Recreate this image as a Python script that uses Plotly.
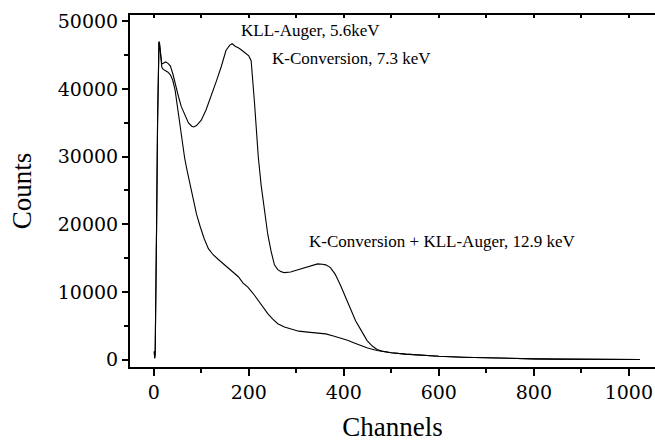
import plotly.graph_objects as go

# Spectrum with the KLL-Auger peak (upper curve)
channels_a = [1, 2, 3, 4, 6, 8, 10, 11, 12, 14, 17, 20, 25, 30, 35, 40, 45, 52, 58, 66,
              73, 80, 84, 90, 100, 110, 121, 132, 142, 152, 160, 165, 172, 178, 186, 194,
              200, 205, 208, 212, 216, 220, 226, 233, 240, 247, 254, 261, 268, 275, 288,
              300, 310, 320, 335, 345, 355, 362, 372, 382, 393, 403, 414, 425, 435, 449,
              460, 470, 480, 500, 530, 560, 600, 650, 700, 750, 800, 850, 900, 950, 1000, 1023]
counts_a = [1200, 200, 900, 6000, 20000, 35000, 45500, 47000, 46800, 45000, 43700, 43800,
            44000, 43800, 43400, 42300, 40800, 38900, 37400, 36000, 35000, 34500, 34400,
            34600, 35400, 36900, 38900, 41200, 43300, 45700, 46500, 46700, 46300, 46100,
            45700, 45300, 44900, 44200, 42000, 38000, 34000, 30000, 25800, 22000, 18500,
            16000, 14000, 13300, 13000, 12850, 12950, 13200, 13400, 13600, 13900, 14150,
            14100, 14000, 13600, 12600, 11000, 9300, 7600, 5700, 4500, 2800, 2000, 1500,
            1250, 1000, 800, 650, 480, 350, 240, 160, 100, 70, 50, 30, 20, 15]

# Spectrum without it (lower curve)
channels_b = [1, 2, 3, 4, 6, 8, 10, 11, 12, 14, 17, 20, 25, 30, 35, 40, 45, 52, 59, 65,
              70, 77, 84, 90, 98, 106, 115, 125, 136, 146, 157, 167, 178, 188, 198, 209,
              219, 230, 240, 250, 261, 275, 289, 305, 324, 345, 362, 380, 394, 408, 422,
              435, 450, 470, 485, 500, 530, 560, 600, 650, 700, 750, 800, 850, 900, 950,
              1000, 1023]
counts_b = [1200, 200, 900, 6000, 20000, 35000, 45500, 47000, 46800, 44900, 43200, 42900,
            42700, 42500, 42100, 41300, 39800, 36400, 32500, 29800, 28000, 25600, 23600,
            21500, 19600, 17900, 16400, 15500, 14800, 14200, 13600, 13000, 12250, 11300,
            10700, 9800, 8800, 7700, 6800, 6000, 5300, 4800, 4500, 4200, 4050, 3950, 3800,
            3450, 3200, 2850, 2450, 2050, 1700, 1350, 1150, 1000, 800, 650, 480, 350, 240,
            160, 100, 70, 50, 30, 20, 15]

x_ticks = [0, 200, 400, 600, 800, 1000]
top_ticks = list(range(0, 1100, 100))
y_ticks = [0, 10000, 20000, 30000, 40000, 50000]
x_range = [-50, 1055]
y_range = [-1100, 50950]

labels = [
    ("KLL-Auger, 5.6keV", 180, 48700),
    ("K-Conversion, 7.3 keV", 245, 44450),
    ("K-Conversion + KLL-Auger, 12.9 keV", 323, 17400),
]

fig = go.Figure()
for xs, ys in ((channels_a, counts_a), (channels_b, counts_b)):
    fig.add_trace(go.Scatter(x=xs, y=ys, mode="lines",
                             line=dict(color="black", width=1.1),
                             showlegend=False, hoverinfo="skip"))
# the lower spectrum is also bound to the top axis (drawn without a line) so that
# the top tick marks get rendered
fig.add_trace(go.Scatter(x=channels_b, y=counts_b, xaxis="x2", yaxis="y",
                         mode="lines", line=dict(width=0),
                         showlegend=False, hoverinfo="skip"))

tick_font = dict(family="DejaVu Serif", size=19, color="black")
title_font = dict(family="Liberation Serif", size=27, color="black")

fig.update_layout(
    width=655, height=442,
    margin=dict(l=130, r=0, t=15, b=75, autoexpand=False),
    paper_bgcolor="white", plot_bgcolor="white",
    xaxis=dict(
        range=x_range, tickvals=x_ticks, ticktext=[str(v) for v in x_ticks],
        showline=True, mirror=True, linewidth=2, linecolor="black",
        ticks="outside", ticklen=7, tickwidth=1.5, tickcolor="black",
        minor=dict(dtick=100, tick0=0, ticks="outside", ticklen=4,
                   tickwidth=1.5, tickcolor="black", showgrid=False),
        showgrid=False, zeroline=False, tickfont=tick_font,
        ticklabeloverflow="allow", automargin=False,
        title=dict(text="Channels", font=title_font, standoff=30),
    ),
    xaxis2=dict(
        range=x_range, overlaying="x", side="top", anchor="y", visible=True,
        showline=True, linewidth=2, linecolor="black", automargin=False,
        ticks="inside", tickvals=top_ticks, ticklen=3, tickwidth=1.5,
        tickcolor="black", showticklabels=False, showgrid=False, zeroline=False,
    ),
    yaxis=dict(
        range=y_range, tickvals=y_ticks, ticktext=[str(v) for v in y_ticks],
        showline=True, linewidth=2, linecolor="black", automargin=False,
        ticks="outside", ticklen=6, tickwidth=1.5, tickcolor="black",
        minor=dict(dtick=5000, tick0=0, ticks="outside", ticklen=4,
                   tickwidth=1.5, tickcolor="black", showgrid=False),
        showgrid=False, zeroline=False, tickfont=tick_font,
        title=dict(text="Counts", font=title_font, standoff=18),
    ),
)

for text, x, y in labels:
    fig.add_annotation(x=x, y=y, text=text, showarrow=False, xanchor="left",
                       yanchor="middle",
                       font=dict(family="Liberation Serif", size=17, color="black"))

fig.write_html("out.html")
